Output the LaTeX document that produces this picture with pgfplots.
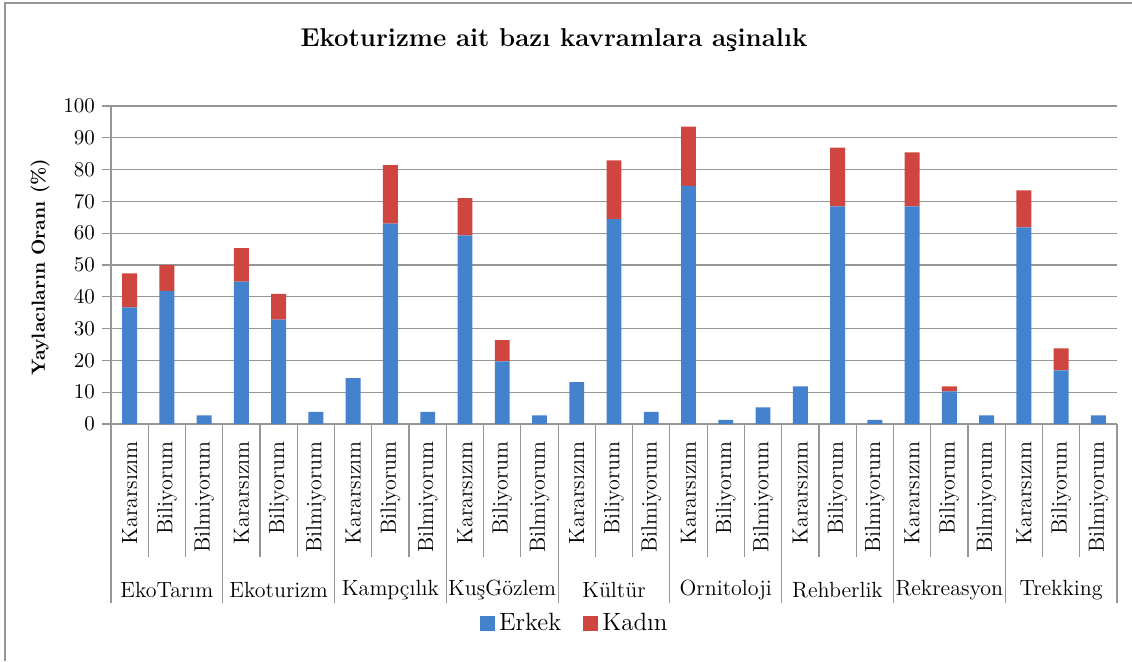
\documentclass[border=0pt]{standalone}
\usepackage{pgfplots}
\usepackage{pgfplotstable}
\pgfplotsset{compat=1.18}
\definecolor{erkek}{RGB}{68,130,205}
\definecolor{kadin}{RGB}{207,69,64}
\definecolor{gridc}{RGB}{150,150,150}
\pgfplotstableread{
x erkek kadin
0 36.7 10.7
1 41.9 8.1
2 2.7 0
3 44.8 10.5
4 32.8 8.1
5 3.8 0
6 14.4 0
7 63.0 18.4
8 3.8 0
9 59.3 11.7
10 19.7 6.7
11 2.7 0
12 13.2 0
13 64.4 18.5
14 3.8 0
15 74.9 18.6
16 1.3 0
17 5.2 0
18 11.8 0
19 68.4 18.5
20 1.3 0
21 68.4 17.0
22 10.3 1.5
23 2.7 0
24 61.8 11.7
25 16.9 6.9
26 2.7 0
}\datatab
\begin{document}
\begin{tikzpicture}
\useasboundingbox (-55.5pt,-118.5pt) rectangle (510.5pt,212pt);
\draw[gridc, line width=0.8pt] (-53pt,-118.5pt) -- (-53pt,210.5pt) -- (510.5pt,210.5pt);
\begin{axis}[
  at={(0pt,0pt)}, anchor=south west,
  scale only axis, width=503pt, height=159pt,
  ybar stacked, bar width=0.4,
  xmin=-0.5, xmax=26.5, ymin=0, ymax=100,
  ytick={0,10,...,100},
  xtick={0,...,26},
  xticklabels={Kararsızım,Biliyorum,Bilmiyorum,Kararsızım,Biliyorum,Bilmiyorum,Kararsızım,Biliyorum,Bilmiyorum,Kararsızım,Biliyorum,Bilmiyorum,Kararsızım,Biliyorum,Bilmiyorum,Kararsızım,Biliyorum,Bilmiyorum,Kararsızım,Biliyorum,Bilmiyorum,Kararsızım,Biliyorum,Bilmiyorum,Kararsızım,Biliyorum,Bilmiyorum},
  xticklabel style={rotate=90, anchor=east, inner sep=0pt, font=\fontsize{11}{12}\selectfont, xshift=-4pt},
  x tick style={draw=none},
  major x tick style={draw=none},
  yticklabel style={font=\fontsize{10.5}{12}\selectfont, /pgf/number format/assume math mode=true},
  y tick style={gridc, line width=0.6pt},
  tick align=outside, major tick length=4.5pt,
  axis x line*=bottom, axis y line*=left,
  axis line style={gridc, line width=0.7pt, -},
  ymajorgrids, major grid style={gridc, line width=0.6pt},
  clip=false,
  legend columns=2,
  legend style={at={(0.462,-0.626)}, anchor=center, draw=none, fill=none,
     font=\fontsize{12.5}{14}\selectfont, column sep=0pt,
     /tikz/every even column/.append style={column sep=9pt}},
  legend image code/.code={\fill[#1] (0pt,-3.75pt) rectangle (7.5pt,3.75pt);},
]
\addplot[fill=erkek, draw=none] table[x=x, y=erkek] {\datatab};
\addplot[fill=kadin, draw=none] table[x=x, y=kadin] {\datatab};
\legend{Erkek, Kadın}
\end{axis}
\foreach \k in {0,...,27} {
  \draw[gridc, line width=0.6pt] ({\k*503/27*1pt},0pt) -- ({\k*503/27*1pt},-66.5pt);
}
\foreach \k in {0,3,...,27} {
  \draw[gridc, line width=0.6pt] ({\k*503/27*1pt},0pt) -- ({\k*503/27*1pt},-89.5pt);
}
\foreach \g/\name in {0/EkoTarım,1/Ekoturizm,2/Kampçılık,3/KuşGözlem,4/Kültür,5/Ornitoloji,6/Rehberlik,7/Rekreasyon,8/Trekking} {
  \node[font=\fontsize{11}{12}\selectfont] at ({(3*\g+1.5)*503/27*1pt},-83pt) {\name};
}
\node[font=\fontsize{12.9}{14}\selectfont\bfseries] at (221.5pt,192pt) {Ekoturizme ait bazı kavramlara aşinalık};
\node[rotate=90, font=\fontsize{9.5}{11}\selectfont\bfseries] at (-35.5pt,78.5pt) {Yaylacıların Oranı (\%)};
\end{tikzpicture}
\end{document}
